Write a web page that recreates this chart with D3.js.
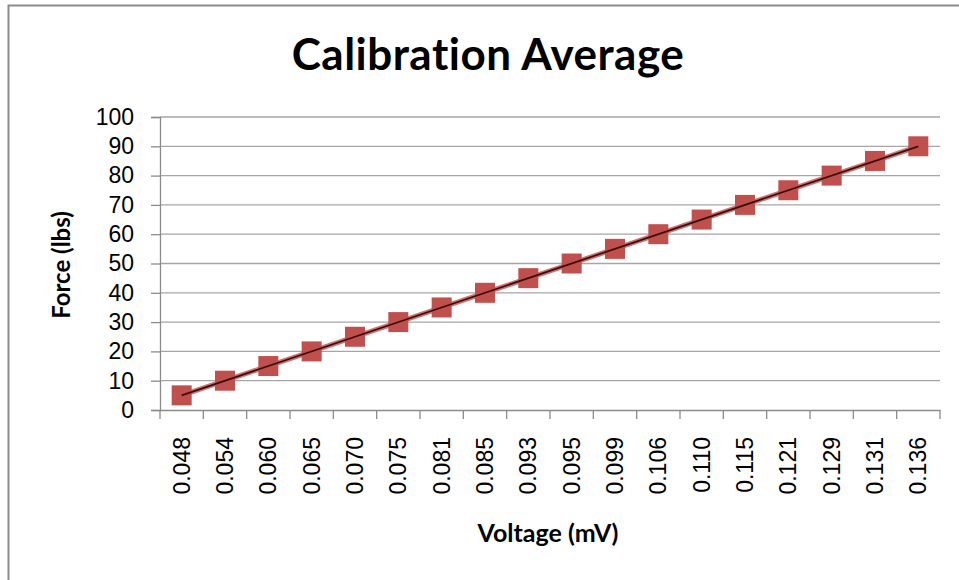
<!DOCTYPE html>
<html>
<head>
<meta charset="utf-8">
<script src="https://cdn.jsdelivr.net/npm/d3@7"></script>
<style>
  body { margin: 0; background: #fff; }
  text { font-variant-ligatures: none; }
</style>
</head>
<body>
<div id="chart"></div>
<script>
// data
const voltages = ['0.048', '0.054', '0.060', '0.065', '0.070', '0.075', '0.081', '0.085', '0.093',
  '0.095', '0.099', '0.106', '0.110', '0.115', '0.121', '0.129', '0.131', '0.136'];
const force = [5, 10, 15, 20, 25, 30, 35, 40, 45, 50, 55, 60, 65, 70, 75, 80, 85, 90];
const yTicks = [0, 10, 20, 30, 40, 50, 60, 70, 80, 90, 100];

const W = 959, H = 580;
const m = { left: 160, right: 19, top: 117, bottom: 170 };

const svg = d3.select('#chart').append('svg')
  .attr('width', W).attr('height', H);

// chart frame
svg.append('rect')
  .attr('x', 8.5).attr('y', 5.5)
  .attr('width', W + 20).attr('height', H + 20)
  .attr('fill', '#fff')
  .attr('stroke', '#8c8c8c')
  .attr('stroke-width', 2);

const x = d3.scaleBand().domain(voltages).range([m.left, W - m.right]);
const y = d3.scaleLinear().domain([0, 100]).range([H - m.bottom, m.top]);

// gridlines
svg.append('g')
  .selectAll('line')
  .data(yTicks.slice(1))
  .enter().append('line')
  .attr('x1', m.left).attr('x2', W - m.right)
  .attr('y1', d => y(d)).attr('y2', d => y(d))
  .attr('stroke', '#a6a6a6')
  .attr('stroke-width', 1.3);

// y axis
let yAxis = svg.append('g')
  .attr('transform', `translate(${m.left},0)`)
  .call(d3.axisLeft(y).tickValues(yTicks).tickSize(9).tickPadding(17));
yAxis.select('.domain').attr('stroke', '#8c8c8c').attr('stroke-width', 1.3);
yAxis.selectAll('.tick line').attr('stroke', '#8c8c8c').attr('stroke-width', 1.3);
yAxis.selectAll('text')
  .attr('font-family', 'Liberation Sans, Arial, sans-serif')
  .attr('font-size', 23)
  .attr('fill', '#000');

// x axis
let xAxis = svg.append('g')
  .attr('transform', `translate(0,${H - m.bottom})`)
  .call(d3.axisBottom(x).tickSize(0));
xAxis.select('.domain').attr('stroke', '#8c8c8c').attr('stroke-width', 1.3);
xAxis.selectAll('.tick line').remove();
xAxis.selectAll('.tick text')
  .attr('font-family', 'Liberation Sans, Arial, sans-serif')
  .attr('font-size', 23)
  .attr('fill', '#000')
  .attr('text-anchor', 'end')
  .attr('dy', null)
  .attr('transform', 'rotate(-90)')
  .attr('x', -27)
  .attr('y', 8);

// category boundary ticks
const bounds = voltages.map(v => x(v)).concat([W - m.right]);
svg.append('g')
  .selectAll('line')
  .data(bounds)
  .enter().append('line')
  .attr('x1', d => d).attr('x2', d => d)
  .attr('y1', H - m.bottom).attr('y2', H - m.bottom + 9)
  .attr('stroke', '#8c8c8c')
  .attr('stroke-width', 1.3);

// markers
svg.append('g')
  .selectAll('rect')
  .data(force)
  .enter().append('rect')
  .attr('x', (d, i) => x(voltages[i]) + x.bandwidth() / 2 - 10)
  .attr('y', d => y(d) - 10)
  .attr('width', 20).attr('height', 20)
  .attr('fill', '#c0504d');

// linear trendline
const n = force.length;
const xs = d3.range(n);
const mx = d3.mean(xs), my = d3.mean(force);
const slope = d3.sum(xs, (v, i) => (v - mx) * (force[i] - my)) / d3.sum(xs, v => (v - mx) * (v - mx));
const icpt = my - slope * mx;
const trend = [[0, icpt], [n - 1, icpt + slope * (n - 1)]];
const line = d3.line()
  .x(d => x(voltages[d[0]]) + x.bandwidth() / 2)
  .y(d => y(d[1]));

svg.append('path')
  .attr('d', line(trend))
  .attr('stroke', '#c0504d')
  .attr('stroke-opacity', 0.8)
  .attr('stroke-width', 5)
  .attr('fill', 'none');
svg.append('path')
  .attr('d', line(trend))
  .attr('stroke', '#3a0f0e')
  .attr('stroke-width', 1.8)
  .attr('fill', 'none');

// title
svg.append('text')
  .attr('x', 488).attr('y', 70)
  .attr('text-anchor', 'middle')
  .attr('font-family', 'Lato, Open Sans, sans-serif')
  .attr('font-weight', 'bold')
  .attr('font-size', 44)
  .attr('letter-spacing', 0.5)
  .attr('fill', '#000')
  .text('Calibration Average');

// axis titles
svg.append('text')
  .attr('x', 548).attr('y', 542)
  .attr('text-anchor', 'middle')
  .attr('font-family', 'Lato, Open Sans, sans-serif')
  .attr('font-weight', 'bold')
  .attr('font-size', 25)
  .attr('fill', '#000')
  .text('Voltage (mV)');

svg.append('text')
  .attr('transform', 'translate(70,265) rotate(-90)')
  .attr('text-anchor', 'middle')
  .attr('font-family', 'Lato, Open Sans, sans-serif')
  .attr('font-weight', 'bold')
  .attr('font-size', 24)
  .attr('fill', '#000')
  .text('Force (lbs)');
</script>
</body>
</html>
